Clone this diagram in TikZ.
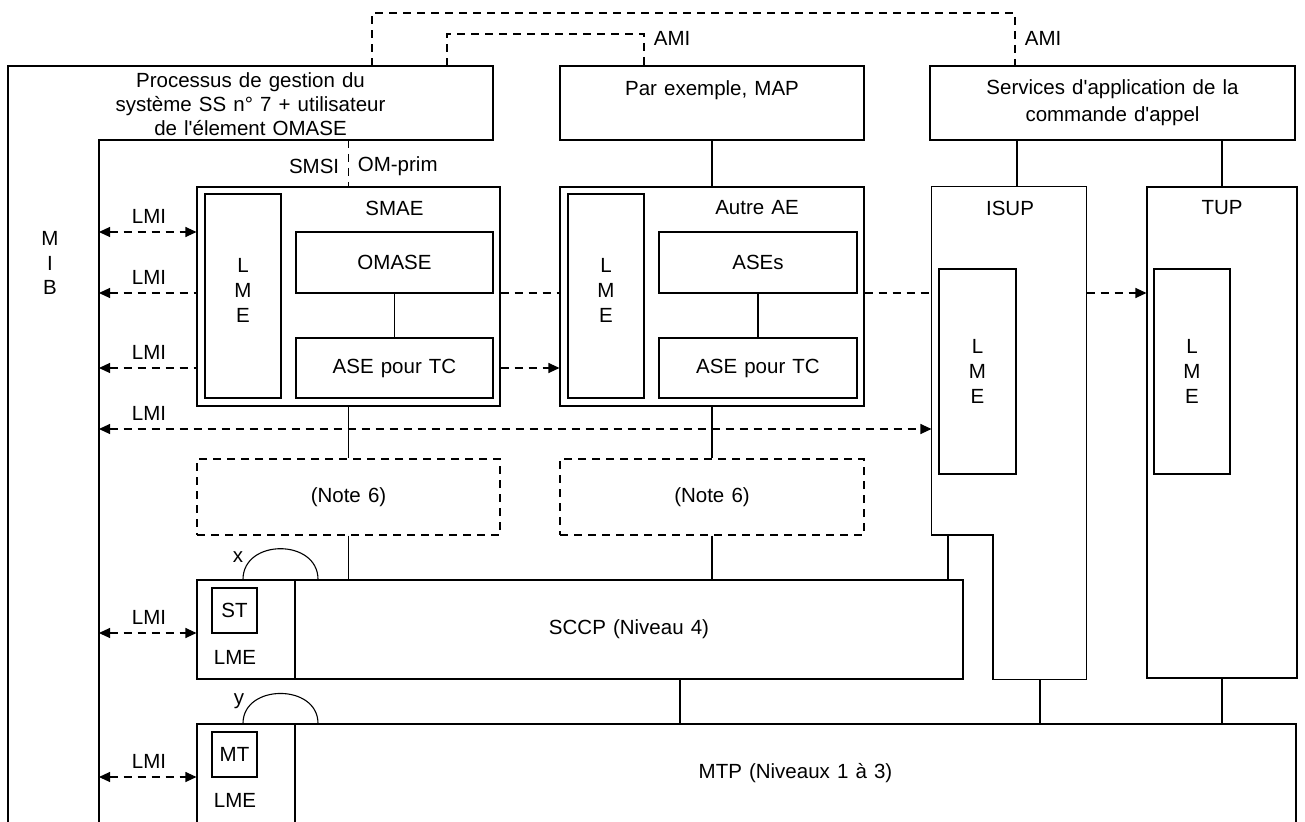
\documentclass[tikz,border=0pt]{standalone}
\usepackage{fontspec}
\setmainfont{Liberation Sans}[Ligatures=TeXOff, WordSpace=1.25]
\usepackage{tikz}
\usetikzlibrary{arrows.meta}
\tikzstyle{box}=[rectangle, draw=black, inner sep=0pt]
\tikzstyle{lmi}=[dash pattern=on 8pt off 6pt]
\tikzset{>={Triangle[length=11pt,width=10pt]}}

\begin{document}
\begin{tikzpicture}[x=1pt, y=-1pt, line width=1.1pt,
    every node/.style={font=\fontsize{20.5}{24}\selectfont}]
        \useasboundingbox (0,0) rectangle (1305,821);
        \clip (0,0) rectangle (1305,821);

        % Management process + frame
        \node at (250.5,104) [box, draw=none, minimum width=485, minimum height=74, align=center] (proc)
          {Processus de gestion du\\système SS n°~7 + utilisateur\\de l'élement OMASE};
        \draw (8,823) |- (493,66) |- (99,140) -- (99,823);
        \node at (50,263) [align=center] {M\\[0.5pt]I\\[0.5pt]B};

        % Top boxes
        \node at (712,103) [box, minimum width=304, minimum height=74] (map) {};
        \node at (712,90) {Par exemple, MAP};
        \node at (1112.5,103) [box, minimum width=365, minimum height=74, align=center] (serv)
          {Services d'application de la\\[3pt]commande d'appel};

        % AMI
        \draw [lmi] (372,66) -- (372,13) -| (serv.north -| 1015,0);
        \draw [lmi] (447,66) -- (447,34) -| (map.north -| 644,0);
        \node [anchor=west] at (650,38) {AMI};
        \node [anchor=west] at (1021,38) {AMI};

        % SMAE
        \node at (348.5,296.5) [box, minimum width=303, minimum height=219] (smae) {};
        \node at (394.5,208) {SMAE};
        \node at (243,296) [box, minimum width=76, minimum height=204] (smae_lme) {};
        \node at (243,290) [align=center] {L\\[1pt]M\\[1pt]E};
        \node at (394.5,262.5) [box, minimum width=197, minimum height=61] (omase) {OMASE};
        \node at (394.5,368) [box, minimum width=197, minimum height=60] (ase_1) {ASE pour TC};

        % SMSI
        \draw [lmi] (smae.north |- 0,140) -- (smae.north);
        \node [anchor=east] at (343,166) {SMSI};
        \node [anchor=west] at (354,166) {OM-prim};

        % Autre AE
        \node at (712,296.5) [box, minimum width=304, minimum height=219] (autre) {};
        \node at (757,208) {Autre AE};
        \node at (606,296) [box, minimum width=76, minimum height=204] (autre_lme) {};
        \node at (606,290) [align=center] {L\\[1pt]M\\[1pt]E};
        \node at (758,262.5) [box, minimum width=198, minimum height=61] (ases) {ASEs};
        \node at (758,368) [box, minimum width=198, minimum height=60] (ase_2) {ASE pour TC};

        % ISUP, TUP
        \node at (1009,433) [minimum width=154, minimum height=492, inner sep=0pt] (isup) {};
        \coordinate (isup_step) at (993,535);
        \draw (isup.north west) |- (isup_step) |- (isup.south east) -- (isup.north east) -- cycle;
        \node at (1010,208) {ISUP};
        \node at (977.5,371.5) [box, minimum width=77, minimum height=205, align=center] (isup_lme) {L\\[1pt]M\\[1pt]E};
        \node at (1222,432.5) [box, minimum width=150, minimum height=491] (tup) {};
        \node at (1222,208) {TUP};
        \node at (1192,371.5) [box, minimum width=76, minimum height=205, align=center] (tup_lme) {L\\[1pt]M\\[1pt]E};

        % Notes
        \node at (348.5,497) [box, lmi, minimum width=303, minimum height=76] (note_1) {(Note 6)};
        \node at (712,497) [box, lmi, minimum width=304, minimum height=76] (note_2) {(Note 6)};

        % SCCP
        \node at (246,629.5) [box, minimum width=98, minimum height=99] (sccp_lme) {};
        \node at (629,629.5) [box, minimum width=668, minimum height=99] (sccp) {SCCP (Niveau 4)};
        \node at (234.5,610.5) [box, minimum size=45] (st) {ST};
        \node at (235,657) {LME};

        % MTP
        \node at (246,773.5) [box, minimum width=98, minimum height=99] (mtp_lme) {};
        \node at (795.5,773.5) [box, minimum width=1001, minimum height=99] (mtp) {MTP (Niveaux 1 à 3)};
        \node at (234.5,754.5) [box, minimum size=45] (mt) {MT};
        \node at (235,800) {LME};

        % Links
        \draw (map) -- (autre);
        \draw (serv.south -| 1017,0) -- (isup.north -| 1017,0);
        \draw (serv.south -| tup.north) -- (tup.north);
        \draw (omase) -- (ase_1);
        \draw (ases) -- (ase_2);
        \draw (smae) -- (note_1);
        \draw (autre) -- (note_2);
        \draw (note_1.south) -- (note_1.south |- sccp.north);
        \draw (note_2.south) -- (note_2.south |- sccp.north);
        \draw (isup_step -| 948,0) -- (sccp.north -| 948,0);
        \draw (sccp.south -| 680,0) -- (mtp.north -| 680,0);
        \draw (isup.south -| 1040,0) -- (mtp.north -| 1040,0);
        \draw (tup.south) -- (tup.south |- mtp.north);

        % x and y
        \draw (sccp_lme.north -| 243,0) .. controls +(0,-41) and +(0,-41) .. (sccp_lme.north -| 318,0);
        \draw (mtp_lme.north -| 243,0) .. controls +(0,-40) and +(0,-40) .. (mtp_lme.north -| 318,0);
        \node at (238,557) {x};
        \node at (239,701) {y};

        % LMI
        \foreach \i/\y in {1/232,2/293,3/368,4/429,5/633,6/777}
        {
          \coordinate (lmi_\i) at (99,\y);
          \node at (149,\y-16) {LMI};
        }
        \draw [lmi,<->] (lmi_1) -- (lmi_1 -| smae.west);
        \draw [lmi,<-] (lmi_2) -- (lmi_2 -| smae.west);
        \draw [lmi] (lmi_2 -| smae.east) -- (lmi_2 -| autre.west);
        \draw [lmi] (lmi_2 -| autre.east) -- (lmi_2 -| isup.west);
        \draw [lmi,->] (lmi_2 -| isup.east) -- (lmi_2 -| tup.west);
        \draw [lmi,<-] (lmi_3) -- (lmi_3 -| smae.west);
        \draw [lmi,->] (lmi_3 -| smae.east) -- (lmi_3 -| autre.west);
        \draw [lmi,<->] (lmi_4) -- (lmi_4 -| isup.west);
        \draw [lmi,<->] (lmi_5) -- (lmi_5 -| sccp_lme.west);
        \draw [lmi,<->] (lmi_6) -- (lmi_6 -| mtp_lme.west);
\end{tikzpicture}
\end{document}
